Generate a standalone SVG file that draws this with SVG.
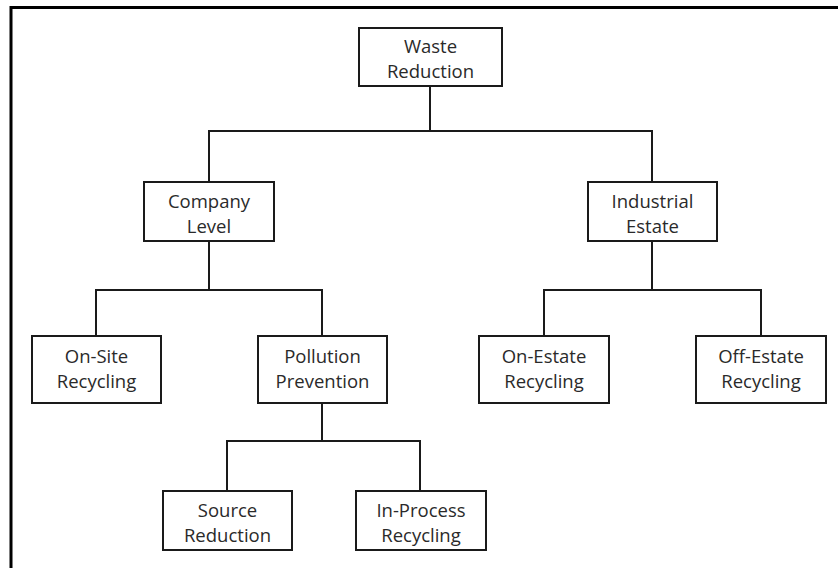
<svg xmlns="http://www.w3.org/2000/svg" width="838" height="568" viewBox="0 0 838 568">
  <style>
    .box { fill: #ffffff; stroke: #1a1a1a; stroke-width: 2; }
    .wire { fill: none; stroke: #1a1a1a; stroke-width: 2; }
    .frame { fill: none; stroke: #000000; stroke-width: 3; }
    text { font-family: "Open Sans", "Liberation Sans", sans-serif; font-size: 18.5px; fill: #2a2a2a; text-anchor: middle; }
  </style>
  <rect x="0" y="0" width="838" height="568" fill="#ffffff"/>
  <!-- outer frame: only top and left edges fall inside the canvas -->
  <path class="frame" d="M11,568 V7.5 H838"/>

  <g id="connectors">
    <path class="wire" d="M430,86 V131 M209,182 V131 H652 V182"/>
    <path class="wire" d="M209,241 V290 M96,336 V290 H322 V336"/>
    <path class="wire" d="M652,241 V290 M544,336 V290 H761 V336"/>
    <path class="wire" d="M322,403 V441 M227,491 V441 H420 V491"/>
  </g>

  <g id="waste-reduction">
    <rect class="box" x="359" y="28" width="143" height="58"/>
    <text x="430.5" y="53">Waste</text>
    <text x="430.5" y="77.5">Reduction</text>
  </g>
  <g id="company-level">
    <rect class="box" x="144" y="182" width="130" height="59"/>
    <text x="209" y="208">Company</text>
    <text x="209" y="233">Level</text>
  </g>
  <g id="industrial-estate">
    <rect class="box" x="588" y="182" width="129" height="59"/>
    <text x="652.5" y="208">Industrial</text>
    <text x="652.5" y="233">Estate</text>
  </g>
  <g id="on-site-recycling">
    <rect class="box" x="32" y="336" width="129" height="67"/>
    <text x="96.5" y="363">On-Site</text>
    <text x="96.5" y="388">Recycling</text>
  </g>
  <g id="pollution-prevention">
    <rect class="box" x="258" y="336" width="129" height="67"/>
    <text x="322.5" y="363">Pollution</text>
    <text x="322.5" y="388">Prevention</text>
  </g>
  <g id="on-estate-recycling">
    <rect class="box" x="479" y="336" width="130" height="67"/>
    <text x="544" y="363">On-Estate</text>
    <text x="544" y="388">Recycling</text>
  </g>
  <g id="off-estate-recycling">
    <rect class="box" x="696" y="336" width="130" height="67"/>
    <text x="761" y="363">Off-Estate</text>
    <text x="761" y="388">Recycling</text>
  </g>
  <g id="source-reduction">
    <rect class="box" x="163" y="491" width="129" height="59"/>
    <text x="227.5" y="516.5">Source</text>
    <text x="227.5" y="541.5">Reduction</text>
  </g>
  <g id="in-process-recycling">
    <rect class="box" x="356" y="491" width="130" height="59"/>
    <text x="421" y="516.5">In-Process</text>
    <text x="421" y="541.5">Recycling</text>
  </g>
</svg>
